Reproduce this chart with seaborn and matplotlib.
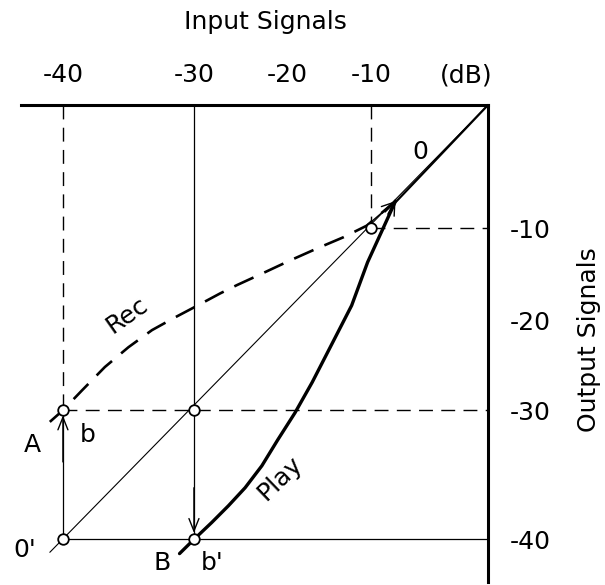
import numpy as np
import pandas as pd
import seaborn as sns
from matplotlib import pyplot as plt

sns.set_theme(style="white")
plt.rcParams['font.family'] = ['DejaVu Sans']
plt.rcParams.update({'text.color': 'black', 'xtick.color': 'black', 'ytick.color': 'black'})

# tick values (dB)
in_ticks = [-40, -30, -20, -10]
out_ticks = [-10, -20, -30, -40]

# the drawing uses an uneven dB scale, breakpoints -> drawing position
x_dB = [-50, -40, -30, -20, -10, 0]
x_pos = [-68, 63, 194, 287, 371, 488]
y_dB = [-50, -40, -30, -20, -10, 0]
y_pos = [-83, 46, 175, 265, 357, 480]

# curves (input dB, output dB)
rec_in = [-41.0, -40.0, -38.55, -36.8, -35.0, -33.2, -31.45, -29.6, -27.2, -25.4,
          -22.6, -19.6, -16.4, -13.3, -10.5, -7.9]
rec_out = [-30.9, -30.0, -27.8, -25.2, -23.0, -21.1, -19.7, -18.4, -17.1, -16.2,
           -14.9, -13.5, -12.2, -11.0, -9.8, -7.8]
play_in = [-31.1, -30.0, -28.1, -26.3, -24.5, -22.7, -21.0, -19.05, -17.0, -14.3,
           -12.3, -10.4, -9.1, -7.9]
play_out = [-41.1, -40.0, -38.7, -37.4, -36.0, -34.3, -32.3, -30.2, -26.9, -22.0,
            -18.4, -13.7, -10.4, -7.8]
diag = [-41.0, 0.0]
knee = -7.85

# marked points
pt_in = [-40, -40, -30, -30, -10]
pt_out = [-40, -30, -30, -40, -10]

fig = plt.figure(figsize=(6.05, 5.85), dpi=100)
ax = fig.add_axes([21 / 605, 3 / 585, 467 / 605, 477 / 585])
ax.set_xscale('function', functions=(lambda v: np.interp(v, x_dB, x_pos),
                                     lambda p: np.interp(p, x_pos, x_dB)))
ax.set_yscale('function', functions=(lambda v: np.interp(v, y_dB, y_pos),
                                     lambda p: np.interp(p, y_pos, y_dB)))

dash_guide = dict(color='black', lw=1.0, dashes=(10, 6))
# guide lines
ax.plot([-40, -40], [0, -30], **dash_guide)
ax.plot([-10, -10], [0, -10], **dash_guide)
ax.plot([-10, 0], [-10, -10], **dash_guide)
ax.plot([-40, 0], [-30, -30], **dash_guide)
ax.plot([-40, 0], [-40, -40], color='black', lw=0.9)
ax.plot([-40, -40], [-40, -30], color='black', lw=0.9)
ax.plot([-30, -30], [0, -40], color='black', lw=0.9)

# 1:1 line
sns.lineplot(x=diag, y=diag, color='black', lw=0.8, ax=ax)
sns.lineplot(x=[knee, 0], y=[knee, 0], color='black', lw=1.6, ax=ax)

df_rec = pd.DataFrame({'inp': rec_in, 'out': rec_out})
df_play = pd.DataFrame({'inp': play_in, 'out': play_out})
sns.lineplot(data=df_rec, x='inp', y='out', sort=False, estimator=None,
             color='black', lw=1.9, ax=ax, linestyle=(0, (8, 4.5)))
sns.lineplot(data=df_play, x='inp', y='out', sort=False, estimator=None,
             color='black', lw=2.4, ax=ax)

arr = dict(arrowstyle='->,head_length=0.5,head_width=0.2', color='black', lw=1.0,
           mutation_scale=18, shrinkA=0, shrinkB=0)
ax.annotate('', xy=(-40, -30.4), xytext=(-40, -34), arrowprops=arr)
ax.annotate('', xy=(-30, -39.5), xytext=(-30, -36), arrowprops=arr)
ax.annotate('', xy=(rec_in[-1], rec_out[-1]), xytext=(rec_in[-2], rec_out[-2]), arrowprops=arr)
ax.annotate('', xy=(play_in[-1], play_out[-1]), xytext=(play_in[-2], play_out[-2]), arrowprops=arr)

sns.scatterplot(x=pt_in, y=pt_out, marker='o', s=58, color='white',
                edgecolor='black', linewidth=1.3, zorder=5, ax=ax)

ax.set_xlim(-43.2, 0)
ax.set_ylim(-43.3, 0)

for s in ['left', 'bottom']:
    ax.spines[s].set_visible(False)
for s in ['top', 'right']:
    ax.spines[s].set_linewidth(2.2)
    ax.spines[s].set_color('black')

ax.xaxis.tick_top()
ax.yaxis.tick_right()
ax.set_xticks(in_ticks)
ax.set_xticklabels([str(t) for t in in_ticks])
ax.set_yticks(out_ticks)
ax.set_yticklabels([str(t) for t in out_ticks])
ax.tick_params(axis='x', length=0, pad=13, labelsize=18)
ax.tick_params(axis='y', length=0, pad=16, labelsize=18)
ax.set_xlabel('')
ax.set_ylabel('')

fig.text(466 / 605, 1 - 75 / 585, '(dB)', ha='center', va='center', fontsize=18)
fig.text(265 / 605, 1 - 22 / 585, 'Input Signals', ha='center', va='center', fontsize=18)
fig.text(589 / 605, 1 - 340 / 585, 'Output Signals', ha='center', va='center',
         fontsize=18, rotation=90)

lab = dict(ha='center', va='center', fontsize=18, clip_on=False)
ax.text(-5.8, -3.8, '0', **lab)
ax.text(-35.1, -19.5, 'Rec', rotation=35, **lab)
ax.text(-20.8, -35.3, 'Play', rotation=44, **lab)
ax.text(-42.3, -32.7, 'A', **lab)
ax.text(-38.1, -31.9, 'b', **lab)
ax.text(-42.9, -40.85, "0'", **lab)
ax.text(-32.4, -41.8, 'B', **lab)
ax.text(-28.0, -41.8, "b'", **lab)

fig.savefig('out.png', dpi=100)
